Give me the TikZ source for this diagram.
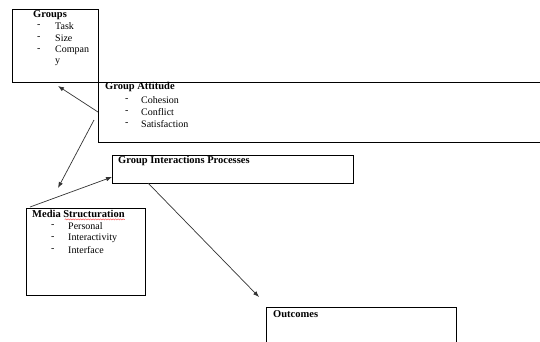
\documentclass[tikz,border=0pt]{standalone}
\usepackage{fontspec}
\setmainfont{Liberation Serif}
\usetikzlibrary{arrows.meta,calc,decorations.pathmorphing}
\begin{document}
\begin{tikzpicture}[x=1pt,y=-1pt,
  box/.style={draw=black,line width=0.8pt,rectangle,inner sep=0pt,outer sep=0pt,anchor=north west},
  head/.style={font=\fontsize{10.5}{12}\selectfont\bfseries,anchor=west,inner sep=0pt},
  item/.style={font=\fontsize{10}{12}\selectfont,anchor=west,inner sep=0pt},
  arr/.style={draw=black!80,line width=0.7pt,-{Latex[length=6pt,width=4.5pt]}}]
\useasboundingbox (0,0) rectangle (540,341);
% boxes
\node[box,minimum width=86pt,minimum height=73pt] (groups) at (12,9) {};
\node[box,minimum width=460pt,minimum height=60pt] (att) at (98,82) {};
\node[box,minimum width=241pt,minimum height=28pt] (gip) at (112,155) {};
\node[box,minimum width=119pt,minimum height=87pt] (media) at (26,208) {};
\node[box,minimum width=190pt,minimum height=45pt] (out) at (266,307) {};
% Groups
\node[head] (tg) at (33,15) {Groups};
\node[item] (d1) at (37,26) {-};
\node[item] (i1) at (55,26) {Task};
\node[item] (d2) at (37,38) {-};
\node[item] (i2) at (55,38) {Size};
\node[item] (d3) at (37,50) {-};
\node[item] (i3) at (55,50) {Compan};
\node[item] (i3b) at (55,62) {y};
% Group Attitude
\node[head] (ta) at (105,87) {Group Attitude};
\node[item] (d4) at (125,100) {-};
\node[item] (i4) at (141,100) {Cohesion};
\node[item] (d5) at (125,112) {-};
\node[item] (i5) at (141,112) {Conflict};
\node[item] (d6) at (125,124) {-};
\node[item] (i6) at (141,124) {Satisfaction};
% Group Interactions
\node[head] (tgip) at (118,161) {Group Interactions Processes};
% Media
\node[head] (tm) at (32,214) {Media Structuration};
\node[item] (d7) at (51,226) {-};
\node[item] (i7) at (68,226) {Personal};
\node[item] (d8) at (51,238) {-};
\node[item] (i8) at (68,238) {Interactivity};
\node[item] (d9) at (51,250) {-};
\node[item] (i9) at (68,250) {Interface};
\draw[red!80,line width=0.4pt,decorate,decoration={snake,amplitude=0.6pt,segment length=2.5pt}]
  ($(tm.south east)+(-60,1.5)$) -- ($(tm.south east)+(0,1.5)$);
% Outcomes
\node[head] (to) at (273,314) {Outcomes};
% arrow end points
\coordinate (c1) at (58,86);
\coordinate (c2s) at (94,120);
\coordinate (c2) at (58,188);
\coordinate (c3s) at (30,207);
\coordinate (c3) at (112,177);
\coordinate (c4s) at (148,183);
\coordinate (c4) at (259,297);
\draw[arr] (att.west) -- (c1);
\draw[arr] (c2s) -- (c2);
\draw[arr] (c3s) -- (c3);
\draw[arr] (c4s) -- (c4);
\end{tikzpicture}
\end{document}
